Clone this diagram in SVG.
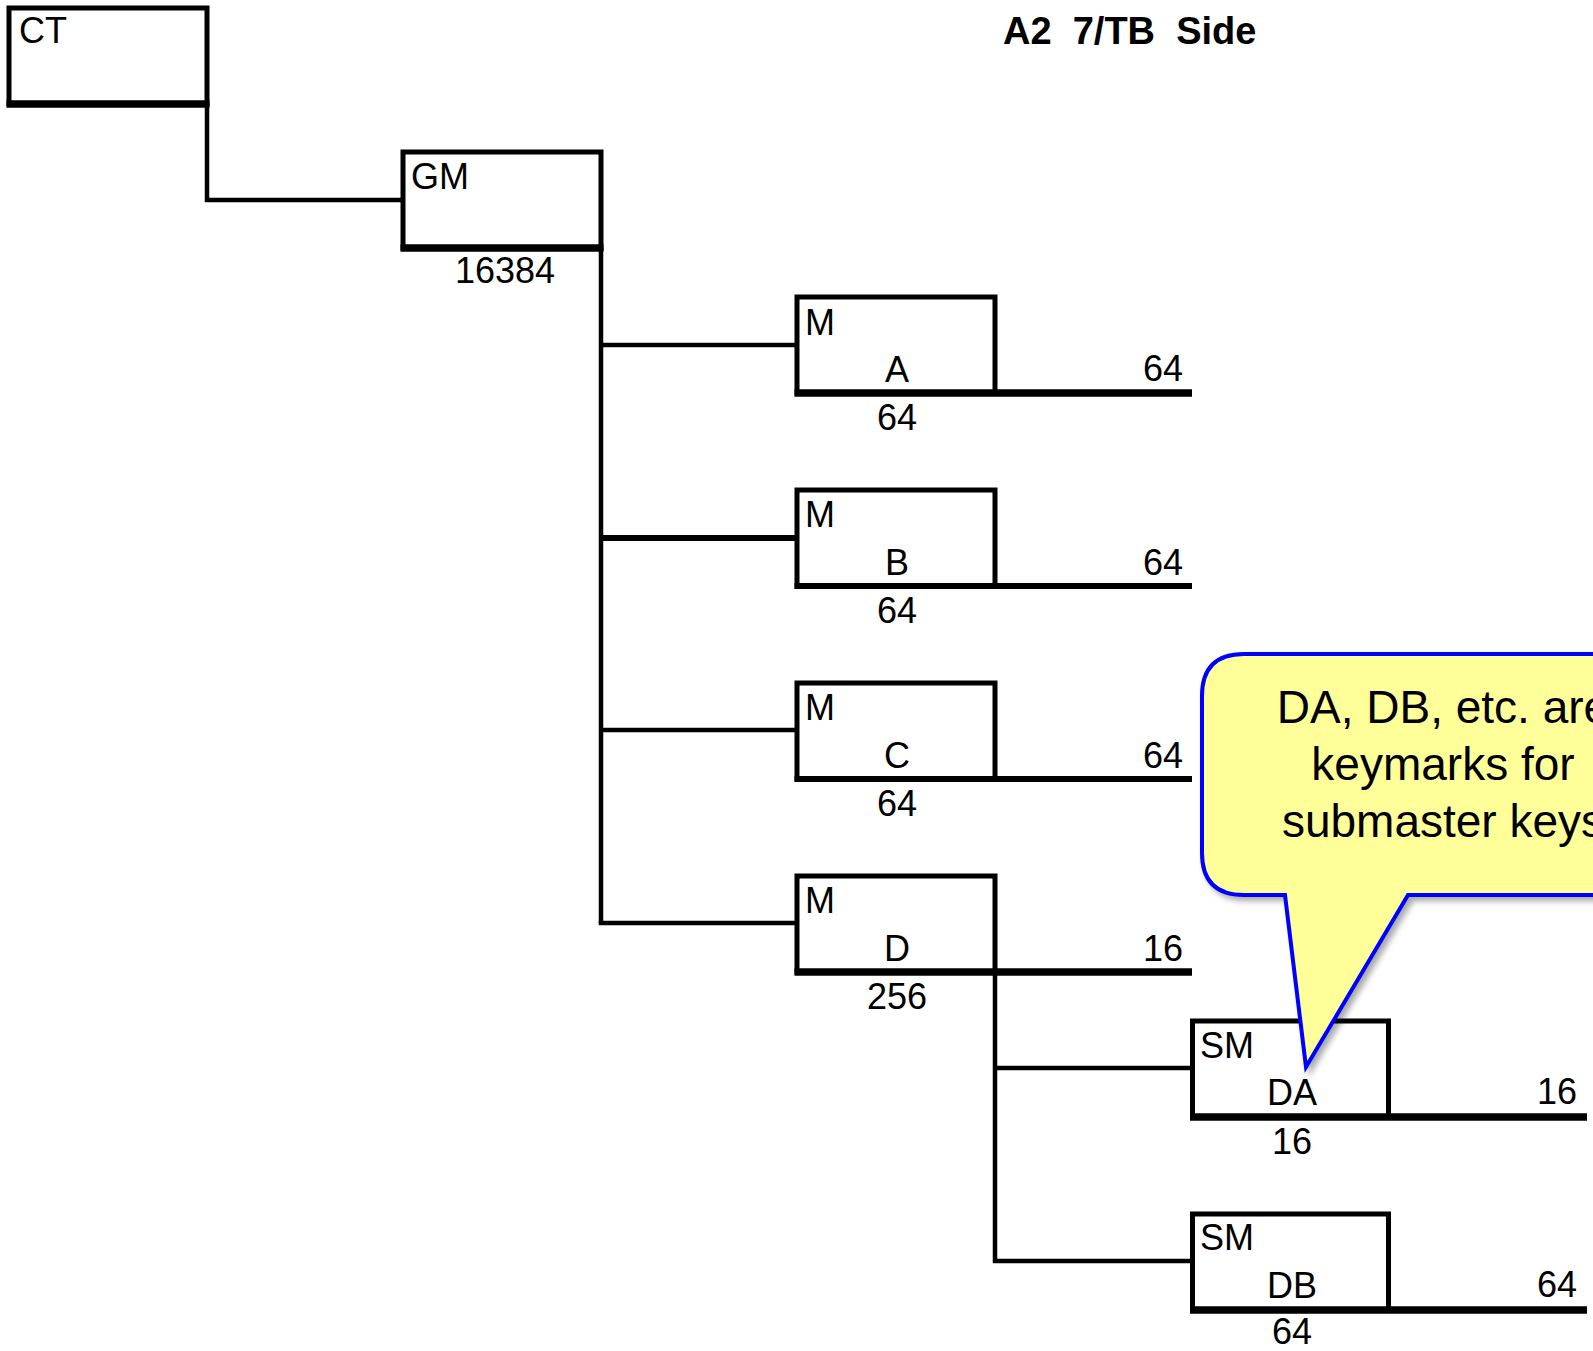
<svg xmlns="http://www.w3.org/2000/svg" width="1593" height="1351" viewBox="0 0 1593 1351">
<style>
.box{fill:none;stroke:#000;stroke-width:5}
.base{stroke:#000;stroke-width:7.5;fill:none}
.ext{stroke:#000;stroke-width:6;fill:none}
.con{stroke:#000;stroke-width:4.5;fill:none;stroke-linejoin:miter}
.t{font-family:"Liberation Sans",Arial,sans-serif;font-size:36px;fill:#000}
.m{text-anchor:middle}
.r{text-anchor:end}
.title{font-family:"Liberation Sans",Arial,sans-serif;font-size:38px;font-weight:bold;fill:#000}
.call{font-family:"Liberation Sans",Arial,sans-serif;font-size:46px;fill:#000;text-anchor:middle}
</style>
<defs>
<filter id="sh" x="-10%" y="-10%" width="130%" height="130%">
<feGaussianBlur in="SourceAlpha" stdDeviation="3"/>
<feOffset dx="4" dy="4" result="o"/>
<feComponentTransfer><feFuncA type="linear" slope="0.35"/></feComponentTransfer>
<feMerge><feMergeNode/><feMergeNode in="SourceGraphic"/></feMerge>
</filter>
</defs>
<rect width="1593" height="1351" fill="#fff"/>
<text class="title" x="1003" y="44" xml:space="preserve">A2  7/TB  Side</text>

<g id="connectors">
<polyline class="con" points="207,104 207,200 403,200"/>
<polyline class="con" points="601,248 601,923"/>
<line class="con" x1="601" y1="345" x2="796" y2="345"/>
<line class="con" x1="601" y1="538" x2="796" y2="538" style="stroke-width:6"/>
<line class="con" x1="601" y1="730" x2="796" y2="730"/>
<polyline class="con" points="601,921 601,923 796,923"/>
<polyline class="con" points="995,972 995,1261 1192,1261"/>
<line class="con" x1="995" y1="1068" x2="1192" y2="1068"/>
</g>

<g id="node-CT">
<rect class="box" x="9" y="8" width="198" height="96"/>
<line class="base" x1="6.5" y1="104" x2="209.5" y2="104"/>
<text class="t" x="19" y="43">CT</text>
</g>

<g id="node-GM">
<rect class="box" x="403" y="152" width="198" height="96"/>
<line class="base" x1="400.5" y1="248" x2="603.5" y2="248"/>
<text class="t" x="411" y="189">GM</text>
<text class="t m" x="505" y="283">16384</text>
</g>

<g id="node-MA">
<rect class="box" x="797" y="297" width="198" height="96"/>
<line class="base" x1="794.5" y1="393" x2="1192" y2="393"/>
<text class="t" x="805" y="335">M</text>
<text class="t m" x="897" y="382">A</text>
<text class="t r" x="1183" y="381">64</text>
<text class="t m" x="897" y="430">64</text>
</g>

<g id="node-MB">
<rect class="box" x="797" y="490" width="198" height="96"/>
<line class="ext" x1="794.5" y1="586" x2="1192" y2="586"/>
<text class="t" x="805" y="527">M</text>
<text class="t m" x="897" y="575">B</text>
<text class="t r" x="1183" y="575">64</text>
<text class="t m" x="897" y="623">64</text>
</g>

<g id="node-MC">
<rect class="box" x="797" y="683" width="198" height="96"/>
<line class="ext" x1="794.5" y1="779" x2="1192" y2="779"/>
<text class="t" x="805" y="720">M</text>
<text class="t m" x="897" y="768">C</text>
<text class="t r" x="1183" y="768">64</text>
<text class="t m" x="897" y="816">64</text>
</g>

<g id="node-MD">
<rect class="box" x="797" y="876" width="198" height="96"/>
<line class="base" x1="794.5" y1="972" x2="1192" y2="972"/>
<text class="t" x="805" y="913">M</text>
<text class="t m" x="897" y="961">D</text>
<text class="t r" x="1183" y="961">16</text>
<text class="t m" x="897" y="1009">256</text>
</g>

<g id="node-SMDA">
<rect class="box" x="1192.5" y="1021" width="196" height="96"/>
<line class="base" x1="1190" y1="1117" x2="1587" y2="1117"/>
<text class="t" x="1200" y="1058">SM</text>
<text class="t m" x="1292" y="1105">DA</text>
<text class="t r" x="1577" y="1104">16</text>
<text class="t m" x="1292" y="1154">16</text>
</g>

<g id="node-SMDB">
<rect class="box" x="1192.5" y="1214" width="196" height="96"/>
<line class="base" x1="1190" y1="1310" x2="1587" y2="1310"/>
<text class="t" x="1200" y="1250">SM</text>
<text class="t m" x="1292" y="1298">DB</text>
<text class="t r" x="1577" y="1297">64</text>
<text class="t m" x="1292" y="1344">64</text>
</g>

<g id="callout">
<path d="M1244,654 H1720 V895 H1408 L1306,1067 L1285,895 H1244 Q1202,895 1202,853 V696 Q1202,654 1244,654 Z" fill="#FFFF99" stroke="#0000FF" stroke-width="4" stroke-linejoin="miter" filter="url(#sh)"/>
<text class="call" x="1443" y="723">DA, DB, etc. are</text>
<text class="call" x="1443" y="780">keymarks for</text>
<text class="call" x="1443" y="837">submaster keys</text>
</g>
</svg>
